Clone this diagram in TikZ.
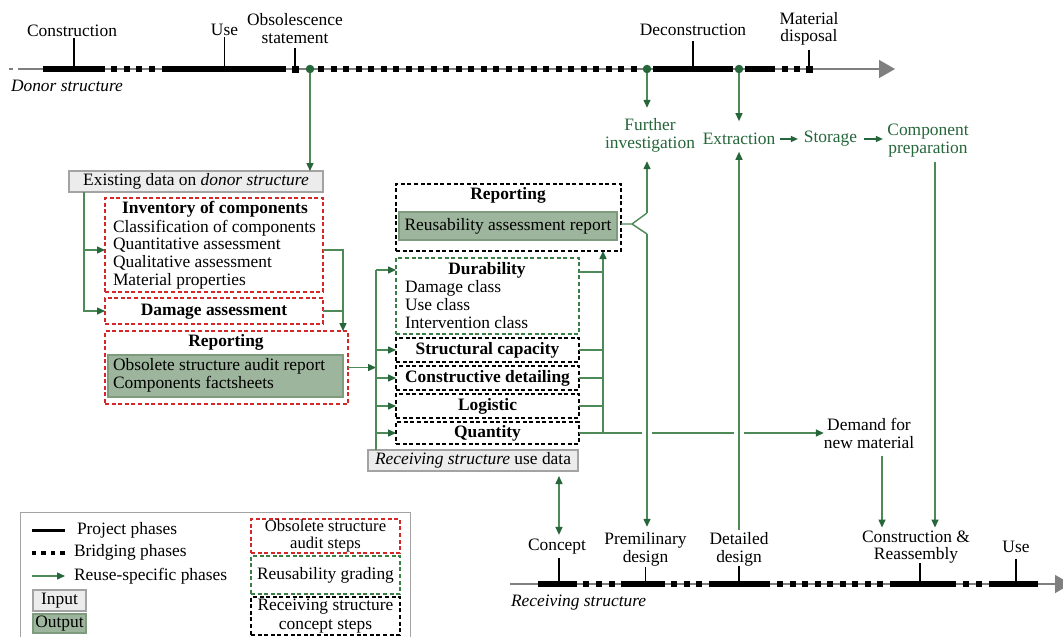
\documentclass[tikz,border=0pt]{standalone}
\usepackage{fontspec}
\setmainfont{Liberation Serif}
\usetikzlibrary{arrows.meta,fit}
\definecolor{gT}{HTML}{25663A}
\definecolor{gL}{HTML}{4E8A57}
\definecolor{gD}{HTML}{3A7D45}
\definecolor{rD}{HTML}{D42828}
\definecolor{sage}{HTML}{9DB59C}
\definecolor{sageB}{HTML}{7E9B7D}
\definecolor{inF}{HTML}{ECECEC}
\definecolor{inB}{HTML}{A3A3A3}
\definecolor{axG}{HTML}{7F7F7F}
\begin{document}
\begin{tikzpicture}[x=1pt,y=-1pt,
  every node/.style={font=\fontsize{17.4}{17.6}\selectfont,inner sep=0pt,outer sep=0pt},
  dbox/.style={draw=#1,line width=2pt,dash pattern=on 4pt off 2.6pt,inner sep=0pt},
  inbox/.style={draw=inB,fill=inF,line width=1.2pt,inner sep=0pt},
  outbox/.style={draw=sageB,fill=sage,line width=1.2pt,inner sep=0pt},
  gline/.style={draw=gL,line width=1.4pt},
  garr/.style={gline,-{Triangle[length=8pt,width=7pt,color=gT]}},
  gdarr/.style={gline,{Triangle[length=8pt,width=7pt,color=gT]}-{Triangle[length=8pt,width=7pt,color=gT]}},
  bar/.style={line width=6.5pt},
  tickl/.style={line width=1.5pt},
  ctext/.style={align=center},
  gtext/.style={align=center,text=gT},
  ltext/.style={align=left,anchor=west},
  dot/.style={circle,fill=gT,minimum size=8.5pt},
]
\useasboundingbox (0,0) rectangle (1063,637);
\fill[white] (0,0) rectangle (1063,637);

% ---------------- top axis (donor structure)
\coordinate (ta0) at (18,69);
\coordinate (ta1) at (895,69);
\draw[axG,line width=1.4pt] (9,69) -- (13,69);
\draw[axG,line width=1.4pt,-{Triangle[length=16pt,width=18pt]}] (ta0) -- (ta1);
\foreach \a/\b in {43/105,162/286,653/733,745/775} \draw[bar] (\a,69) -- (\b,69);
\foreach \x in {114,126.5,...,152} \fill (\x-3,66) rectangle (\x+3,72);
\foreach \x in {321,333.5,...,635} \fill (\x-3,66) rectangle (\x+3,72);
\foreach \x in {785,797} \fill (\x-3,66) rectangle (\x+3,72);
\fill (291.5,65.5) rectangle (298.5,72.5);
\fill (805.5,65.5) rectangle (812.5,72.5);

\node (tcon) at (72,31) {Construction};
\node (tuse) at (224.5,30) {Use};
\node[ctext] (tobs) at (295,28.5) {Obsolescence\\statement};
\node (tdec) at (693,30) {Deconstruction};
\node[ctext] (tmat) at (809,29) {Material\\disposal};
\node[anchor=west] (tdon) at (11,86) {\itshape Donor structure};
\draw[tickl,shorten <=1.5pt] ([xshift=2pt]tcon.south) -- ([xshift=2pt]tcon.south |- ta0);
\draw[tickl,shorten <=1pt] (tuse.south) -- (tuse.south |- ta0);
\draw[tickl,shorten <=5pt] (tobs.south) -- (tobs.south |- ta0);
\draw[tickl,shorten <=5pt] (tdec.south) -- (tdec.south |- ta0);
\draw[tickl,shorten <=4pt] (tmat.south) -- (tmat.south |- ta0);

\node[dot] (d1) at (310,69) {};
\node[dot] (d2) at (647,69) {};
\node[dot] (d3) at (739,69) {};

% ---------------- bottom axis (receiving structure)
\coordinate (ba0) at (510,584);
\coordinate (ba1) at (1071,584);
\draw[axG,line width=1.4pt,-{Triangle[length=16pt,width=18pt]}] (ba0) -- (ba1);
\foreach \a/\b in {538/577,621/665,709/770,890/956,989/1038} \draw[bar] (\a,584) -- (\b,584);
\foreach \x in {586,599,612,674,686.5,699,966,979} \fill (\x-3,581) rectangle (\x+3,587);
\foreach \x in {780,792.5,...,880} \fill (\x-3,581) rectangle (\x+3,587);

\node (con) at (557,547) {Concept};
\node[ctext] (pdn) at (645.5,549.5) {Premilinary\\design};
\node[ctext] (ddn) at (739,549.5) {Detailed\\design};
\node[ctext] (crn) at (916,547) {Construction \&\\Reassembly};
\node (ruse) at (1016,547) {Use};
\node[anchor=west] (rec) at (511,603) {\itshape Receiving structure};
\coordinate (cx) at (559,0);
\draw[tickl,shorten <=3pt] (cx |- con.south) -- (cx |- ba0);
\draw[tickl,shorten <=1pt] (pdn.south) -- (pdn.south |- ba0);
\draw[tickl,shorten <=0pt] (ddn.south) -- (ddn.south |- ba0);
\draw[tickl,shorten <=0pt] ([xshift=4pt]crn.south) -- ([xshift=4pt]crn.south |- ba0);
\draw[tickl,shorten <=6pt] (ruse.south) -- (ruse.south |- ba0);

% ---------------- left block: obsolete structure audit
\node[inbox,fit={(69,171)(323,192)}] (exist) {};
\node (existT) at (exist.center) {Existing data on \textit{donor structure}};
\node[dbox=rD,fit={(105,198)(323,292)}] (inv) {};
\node (invT) at (215,209) {\bfseries Inventory of components};
\node[ltext] (invL) at (113,254.5) {Classification of components\\Quantitative assessment\\Qualitative assessment\\Material properties};
\node[dbox=rD,fit={(105,298)(323,324)}] (dmg) {};
\node (dmgT) at (214,311.5) {\bfseries Damage assessment};
\node[dbox=rD,fit={(105,331)(348,404)}] (rep1) {};
\node (rep1T) at (226,342) {\bfseries Reporting};
\node[outbox,fit={(108,355)(343,397)}] (out1) {};
\node[ltext] (out1T) at (113,375.5) {Obsolete structure audit report\\Components factsheets};

\coordinate (lb) at (84,0);
\coordinate (i1) at ([yshift=-5pt]inv.west);
\coordinate (i2) at ([yshift=-5pt]inv.east);
\coordinate (rx) at (343,0);
\draw[garr] (d1) -- (d1 |- exist.north);
\draw[garr] (lb |- exist.south) -- (lb |- dmg.west) -- (dmg.west);
\draw[garr] (lb |- i1) -- (i1);
\draw[garr] (i2) -- (rx |- i2) -- (rx |- rep1.north);
\draw[gline] (dmg.east) -- (rx |- dmg.east);

% ---------------- middle block: reusability grading
\node[dbox=black,fit={(396,184)(621,251)}] (rep2) {};
\node (rep2T) at (508,195) {\bfseries Reporting};
\node[outbox,fit={(399,212)(617,240)}] (out2) {};
\node (out2T) at (out2.center) {Reusability assessment report};
\node[dbox=gD,fit={(396,258)(579,334)}] (dur) {};
\node (durT) at (487,270) {\bfseries Durability};
\node[ltext] (durL) at (405,304.5) {Damage class\\Use class\\Intervention class};
\node[dbox=black,fit={(396,338)(579,362)}] (sc) {};
\node (scT) at (sc.center) {\bfseries Structural capacity};
\node[dbox=black,fit={(396,366)(579,390)}] (cd) {};
\node (cdT) at (cd.center) {\bfseries Constructive detailing};
\node[dbox=black,fit={(396,394)(579,418)}] (lo) {};
\node (loT) at (lo.center) {\bfseries Logistic};
\node[dbox=black,fit={(396,422)(579,444)}] (qu) {};
\node (quT) at (qu.center) {\bfseries Quantity};
\node[inbox,fit={(368,450)(578,471)}] (rsud) {};
\node (rsudT) at (rsud.center) {\textit{Receiving structure} use data};

\coordinate (mb) at (376,0);
\coordinate (rc) at (603,0);
\draw[garr] (rep1.east) -- (mb |- rep1.east);
\draw[gline] (mb |- rsud.north) -- (mb |- durT);
\draw[garr] (mb |- durT) -- (dur.west |- durT);
\draw[garr] (mb |- sc.west) -- (sc.west);
\draw[garr] (mb |- cd.west) -- (cd.west);
\draw[garr] (mb |- lo.west) -- (lo.west);
\draw[garr] (mb |- qu.west) -- (qu.west);
\draw[gline] ([yshift=-2pt]dur.east |- durT) -- ([yshift=-2pt]rc |- durT);
\draw[gline] (sc.east) -- (rc |- sc.east);
\draw[gline] (cd.east) -- (rc |- cd.east);
\draw[gline] (lo.east) -- (rc |- lo.east);
\draw[garr] (qu.east) -- (rc |- qu.east) -- (rc |- rep2.south);

% ---------------- right part: reuse-specific phases
\node[gtext] (fi) at (650,135.5) {Further\\investigation};
\node[gtext] (ex) at (739,139) {Extraction};
\node[gtext] (st) at (830.5,139) {Storage};
\node[gtext] (cp) at (928,140.5) {Component\\preparation};
\node[ctext] (dem) at (869,433.5) {Demand for\\new material};

\coordinate (fx) at (647,0);
\coordinate (cpx) at (935,0);
\coordinate (dmx) at (882,0);
\coordinate (bk) at (632,224);
\coordinate (bu) at (647,213);
\coordinate (bd) at (647,234);

% quantity -> demand (with crossing gaps)
\draw[garr] (rc |- qu.east) -- (dem.west |- qu.east);
\fill[white] (642,428) rectangle (652,436);
\fill[white] (734,428) rectangle (744,436);

\draw[gline] (rep2.east |- bk) -- (bk) -- (bu);
\draw[gline] (bk) -- (bd);
\draw[garr,shorten >=9pt] (bu) -- (fx |- fi.south);
\draw[garr,shorten >=6pt] (bd) -- (fx |- pdn.north);
\draw[garr,shorten >=11pt] (d2) -- (fx |- fi.north);
\draw[garr,shorten >=12pt] (d3) -- (ex.north);
\draw[garr,shorten <=3pt,shorten >=7pt] (ddn.north) -- (ex.south);
\draw[gT,line width=1.4pt,-{Triangle[length=7pt,width=6pt]},shorten <=5pt,shorten >=6pt] (ex.east) -- (st.west);
\draw[gT,line width=1.4pt,-{Triangle[length=7pt,width=6pt]},shorten <=7pt,shorten >=4.5pt] (st.east) -- (cp.west |- st.east);
\draw[garr,shorten <=5pt,shorten >=3pt] (cpx |- cp.south) -- (cpx |- crn.north);
\draw[garr,shorten <=7pt,shorten >=3pt] (dmx |- dem.south) -- (dmx |- crn.north);
\draw[gdarr,shorten <=5pt,shorten >=4.5pt] (cx |- rsud.south) -- (cx |- con.north);

% ---------------- legend
\node[draw=inB,line width=1pt,fit={(20,512)(410,645)}] (leg) {};
\coordinate (lp0) at (32,530);
\coordinate (lp1) at (65,530);
\draw[line width=3pt] (lp0) -- (lp1);
\node[anchor=west] (lpT) at (77,530) {Project phases};
\foreach \x in {34,43.5,53,62.5} \fill (\x-2.2,550.5) rectangle (\x+2.2,555);
\node[anchor=west] (lbT) at (74,552) {Bridging phases};
\coordinate (lr0) at (32,576);
\coordinate (lr1) at (65,576);
\draw[garr] (lr0) -- (lr1);
\node[anchor=west] (lrT) at (74,576) {Reuse-specific phases};
\node[inbox,fit={(33,590)(86,611)}] (lin) {};
\node (linT) at (lin.center) {Input};
\node[outbox,fit={(33,614)(86,633)}] (lout) {};
\node (loutT) at (lout.center) {Output};
\node[dbox=rD,fit={(251,519)(400,553)}] (lred) {};
\node[ctext,font=\fontsize{16.6}{16.8}\selectfont] (lredT) at (325.5,536) {Obsolete structure\\audit steps};
\node[dbox=gD,fit={(251,556)(400,594)}] (lgrn) {};
\node (lgrnT) at (lgrn.center) {Reusability grading};
\node[dbox=black,fit={(251,597)(400,635)}] (lblk) {};
\node[ctext] (lblkT) at (lblk.center) {Receiving structure\\[1pt]concept steps};
\end{tikzpicture}
\end{document}
